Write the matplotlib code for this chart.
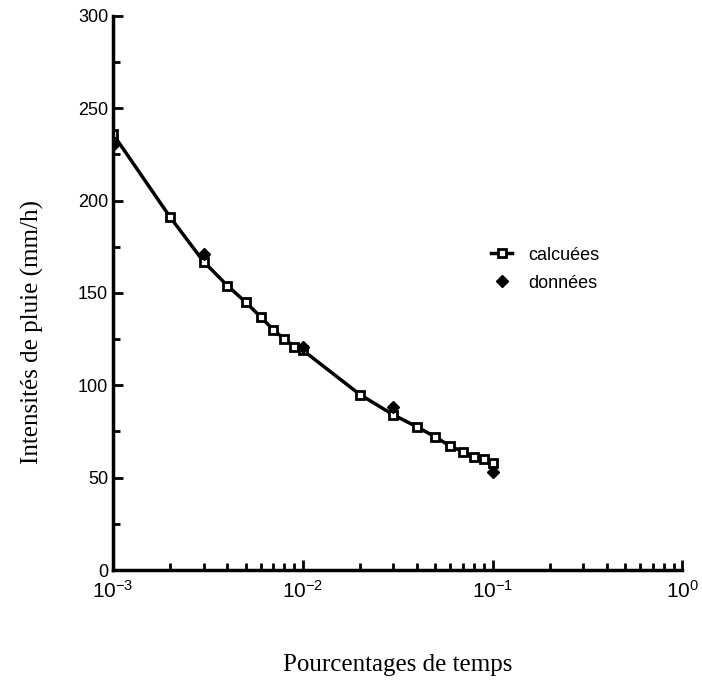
import matplotlib.pyplot as plt
import numpy as np

plt.rcParams['font.family'] = ['Liberation Sans', 'DejaVu Sans']
plt.rcParams['mathtext.default'] = 'regular'

# valeurs calculées
x_calc = [0.001, 0.002, 0.003, 0.004, 0.005, 0.006, 0.007, 0.008, 0.009,
          0.01, 0.02, 0.03, 0.04, 0.05, 0.06, 0.07, 0.08, 0.09, 0.1]
y_calc = [236, 191, 167, 154, 145, 137, 130, 125, 121,
          119, 95, 84, 77.5, 72, 67, 64, 61, 60, 58]

# données mesurées
x_don = [0.001, 0.003, 0.01, 0.03, 0.1]
y_don = [230, 171, 121, 88, 53]

fig = plt.figure(figsize=(7.02, 6.86), dpi=100)
ax = fig.add_axes([0.161, 0.169, 0.811, 0.808])

ax.plot(x_calc, y_calc, color='black', lw=2.5, marker='s', ms=6,
        mfc='white', mec='black', mew=2, label='calcuées', zorder=2)
ax.plot(x_don, y_don, ls='none', marker='D', ms=6, color='black',
        label='données', zorder=3)

ax.set_xscale('log')
ax.set_xlim(1e-3, 1e0)
ax.set_ylim(0, 300)
ax.set_yticks([0, 50, 100, 150, 200, 250, 300])
ax.set_yticks(np.arange(25, 300, 50), minor=True)

for s in ['top', 'right']:
    ax.spines[s].set_visible(False)
for s in ['left', 'bottom']:
    ax.spines[s].set_linewidth(2.5)

ax.tick_params(which='both', direction='in', width=2)
ax.tick_params(which='major', length=7, labelsize=13)
ax.tick_params(which='minor', length=5)
ax.tick_params(axis='x', which='major', pad=7, labelsize=15)

ax.set_xlabel('Pourcentages de temps', family='Liberation Serif',
              fontsize=18, labelpad=38)
ax.set_ylabel('Intensités de pluie (mm/h)', family='Liberation Serif',
              fontsize=18)
ax.yaxis.set_label_coords(-0.122, 0.43)

ax.legend(loc='center left', bbox_to_anchor=(0.635, 0.543), frameon=False,
          fontsize=13, handlelength=1.2, handletextpad=0.9, labelspacing=0.6)

fig.savefig('out.png', dpi=100)
